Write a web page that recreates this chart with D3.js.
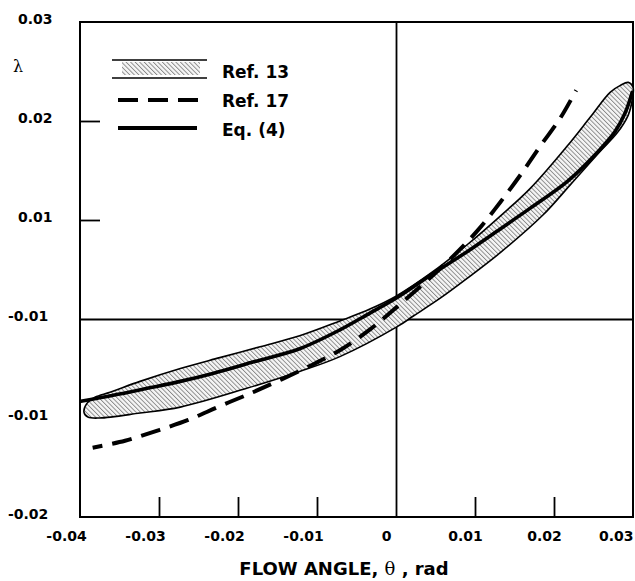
<!DOCTYPE html>
<html>
<head>
<meta charset="utf-8">
<script src="https://cdn.jsdelivr.net/npm/d3@7"></script>
<style>
  body { margin: 0; background: #fff; }
  svg { display: block; font-family: 'DejaVu Sans', sans-serif; }
</style>
</head>
<body>
<div id="container"></div>
<script>
// axis ticks (labels copied as printed on the original figure)
const thetaTicks = [-0.04, -0.03, -0.02, -0.01, 0, 0.01, 0.02, 0.03];
const thetaTickLabels = ['-0.04', '-0.03', '-0.02', '-0.01', '0', '0.01', '0.02', '0.03'];
const lambdaTicks = [-0.02, -0.01, 0, 0.01, 0.02, 0.03];
const lambdaTickLabels = ['-0.02', '-0.01', '-0.01', '0.01', '0.02', '0.03'];

const legendLabels = ['Ref. 13', 'Ref. 17', 'Eq. (4)'];

// Ref. 13 scatter band, [theta, lambda]: upper edge left->right, lower edge right->left
const ref13Upper = [
  [-0.0395, -0.0094], [-0.0391, -0.0085], [-0.0381, -0.0079], [-0.0362, -0.0074],
  [-0.0324, -0.0063], [-0.0273, -0.0050], [-0.0223, -0.0039], [-0.0172, -0.0028],
  [-0.0122, -0.0017], [-0.0071, -0.0002], [-0.0033, 0.0010], [0.0000, 0.0023],
  [0.0047, 0.0048], [0.0090, 0.0075], [0.0132, 0.0104], [0.0170, 0.0132],
  [0.0217, 0.0175], [0.0246, 0.0204], [0.0271, 0.0229], [0.0284, 0.0236],
  [0.0294, 0.0239], [0.0300, 0.0234]
];
const ref13Lower = [
  [0.0299, 0.0221], [0.0294, 0.0206], [0.0280, 0.0188], [0.0258, 0.0169],
  [0.0220, 0.0135], [0.0186, 0.0105], [0.0132, 0.0067], [0.0090, 0.0041],
  [0.0056, 0.0021], [0.0022, 0.0003], [0.0001, -0.0008], [-0.0071, -0.0038],
  [-0.0122, -0.0053], [-0.0189, -0.0070], [-0.0273, -0.0089], [-0.0324, -0.0095],
  [-0.0375, -0.0100], [-0.0390, -0.0099]
];

// Ref. 17 (dashed)
const ref17 = [
  [-0.0384, -0.0130], [-0.0343, -0.0123], [-0.0303, -0.0113], [-0.0263, -0.0102],
  [-0.0223, -0.0088], [-0.0181, -0.0074], [-0.0108, -0.0047], [-0.0070, -0.0031],
  [-0.0032, -0.0010], [0.0001, 0.0012], [0.0068, 0.0060], [0.0104, 0.0090],
  [0.0132, 0.0118], [0.0158, 0.0146], [0.0182, 0.0174], [0.0208, 0.0203],
  [0.0228, 0.0231]
];

// Eq. (4) (solid)
const eq4 = [
  [-0.0399, -0.0083], [-0.0358, -0.0077], [-0.0315, -0.0070], [-0.0273, -0.0063],
  [-0.0232, -0.0055], [-0.0179, -0.0043], [-0.0122, -0.0030], [-0.0071, -0.0011],
  [-0.0033, 0.0006], [0.0000, 0.0021], [0.0047, 0.0046], [0.0090, 0.0068],
  [0.0132, 0.0091], [0.0170, 0.0112], [0.0217, 0.0139], [0.0258, 0.0171],
  [0.0277, 0.0189], [0.0290, 0.0208], [0.0299, 0.0229]
];

const margin = { top: 22, right: 2, bottom: 64, left: 80 };
const width = 635 - margin.left - margin.right;
const height = 581 - margin.top - margin.bottom;

const x = d3.scaleLinear().domain([-0.04, 0.03]).range([0, width]);
const y = d3.scaleLinear().domain([-0.02, 0.03]).range([height, 0]);

const root = d3.select('#container').append('svg')
  .attr('width', 635)
  .attr('height', 581);

// hatch used for the Ref. 13 band
const hatch = root.append('defs').append('pattern')
  .attr('id', 'hatch')
  .attr('patternUnits', 'userSpaceOnUse')
  .attr('width', 3.2)
  .attr('height', 3.2)
  .attr('patternTransform', 'rotate(-45)');
hatch.append('rect').attr('width', 3.2).attr('height', 3.2).attr('fill', '#f6f6f6');
hatch.append('line')
  .attr('x1', 0.5).attr('y1', 0).attr('x2', 0.5).attr('y2', 3.2)
  .attr('stroke', '#777').attr('stroke-width', 0.8);

const svg = root.append('g')
  .attr('transform', `translate(${margin.left}, ${margin.top})`);

// x axis
const xg = svg.append('g')
  .attr('transform', `translate(0, ${height})`)
  .call(d3.axisBottom(x)
    .tickValues(thetaTicks)
    .tickSizeInner(-20)
    .tickSizeOuter(0)
    .tickPadding(14)
    .tickFormat((d, i) => thetaTickLabels[i]));
xg.select('.domain').remove();
xg.selectAll('.tick line')
  .attr('stroke-width', 1.8)
  .attr('y2', (d) => d === 0 ? -height : -20)
  .attr('display', (d) => (d === -0.04 || d === 0.03) ? 'none' : null);
xg.selectAll('.tick text')
  .attr('font-size', 14)
  .attr('font-weight', 'bold')
  .attr('font-family', 'DejaVu Sans')
  .attr('fill', '#000')
  .attr('text-anchor', (d) => d === 0.03 ? 'end' : 'middle')
  .attr('dx', (d) => d === 0.03 ? 0 : (d < 0 ? -14 : -10));

// y axis
const yg = svg.append('g')
  .call(d3.axisLeft(y)
    .tickValues(lambdaTicks)
    .tickSizeInner(-20)
    .tickSizeOuter(0)
    .tickFormat((d, i) => lambdaTickLabels[i]));
yg.select('.domain').remove();
yg.selectAll('.tick line')
  .attr('stroke-width', 1.8)
  .attr('x2', (d) => d === 0 ? width : 20)
  .attr('display', (d) => (d === 0.01 || d === 0.02 || d === 0) ? null : 'none');
yg.selectAll('.tick text')
  .attr('font-size', 14)
  .attr('font-weight', 'bold')
  .attr('font-family', 'DejaVu Sans')
  .attr('fill', '#000')
  .attr('text-anchor', 'start')
  .attr('x', (d, i) => lambdaTickLabels[i].startsWith('-') ? -72 : -62)
  .attr('dy', 0)
  .attr('y', 1);

// frame
svg.append('rect')
  .attr('width', width)
  .attr('height', height)
  .attr('fill', 'none')
  .attr('stroke', '#000')
  .attr('stroke-width', 2);

// Ref. 13 band
const band = d3.line()
  .x((d) => x(d[0]))
  .y((d) => y(d[1]))
  .curve(d3.curveCatmullRomClosed.alpha(0.5));

svg.append('path')
  .attr('d', band(ref13Upper.concat(ref13Lower)))
  .attr('fill', 'url(#hatch)')
  .attr('stroke', '#000')
  .attr('stroke-width', 1.6);

const line = d3.line()
  .x((d) => x(d[0]))
  .y((d) => y(d[1]))
  .curve(d3.curveCatmullRom.alpha(0.5));

svg.append('path')
  .attr('d', line(ref17))
  .attr('fill', 'none')
  .attr('stroke', '#000')
  .attr('stroke-width', 4)
  .attr('stroke-dasharray', '20,10')
  .attr('stroke-dashoffset', 10);

svg.append('path')
  .attr('d', line(eq4))
  .attr('fill', 'none')
  .attr('stroke', '#000')
  .attr('stroke-width', 3.6)
  .attr('stroke-linecap', 'round');

// lambda symbol
root.append('text')
  .attr('x', 13)
  .attr('y', 72)
  .attr('font-family', 'DejaVu Serif')
  .attr('font-size', 16)
  .text('λ');

// x title
const title = root.append('text')
  .attr('x', 344)
  .attr('y', 575)
  .attr('text-anchor', 'middle')
  .attr('font-size', 18)
  .attr('font-weight', 'bold');
title.append('tspan').text('FLOW ANGLE, ');
title.append('tspan')
  .attr('font-family', 'DejaVu Serif')
  .attr('font-weight', 'normal')
  .text('θ');
title.append('tspan').text(' , rad');

// legend
const legend = root.append('g');
const legendY = (i) => 78 + i * 29;

legend.append('rect')
  .attr('x', 122).attr('y', 62)
  .attr('width', 78).attr('height', 13)
  .attr('fill', 'url(#hatch)');
[-9, 9].forEach((off) => {
  legend.append('line')
    .attr('x1', 112).attr('x2', 207)
    .attr('y1', legendY(0) - 9 + off).attr('y2', legendY(0) - 9 + off)
    .attr('stroke', '#000').attr('stroke-width', 1.6);
});
legend.append('line')
  .attr('x1', 118).attr('x2', 200)
  .attr('y1', legendY(1) - 7).attr('y2', legendY(1) - 7)
  .attr('stroke', '#000').attr('stroke-width', 4)
  .attr('stroke-dasharray', '20,10');
legend.append('line')
  .attr('x1', 118).attr('x2', 197)
  .attr('y1', legendY(2) - 8).attr('y2', legendY(2) - 8)
  .attr('stroke', '#000').attr('stroke-width', 4);

legend.selectAll('text.lab')
  .data(legendLabels).enter()
  .append('text')
  .attr('class', 'lab')
  .attr('x', 222)
  .attr('y', (d, i) => legendY(i))
  .attr('font-size', 17)
  .attr('font-weight', 'bold')
  .text((d) => d);
</script>
</body>
</html>
